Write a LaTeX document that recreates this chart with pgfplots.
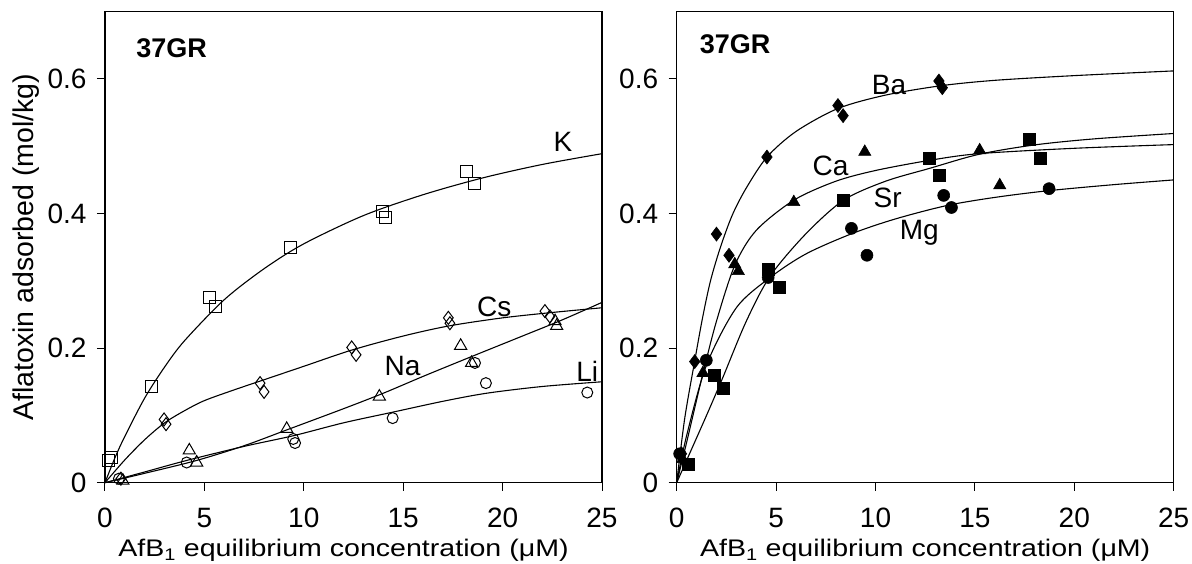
\documentclass[border=0pt]{standalone}
\usepackage{fontspec}
\setmainfont{Liberation Sans}
\newfontfamily\xlabfont[FakeStretch=1.19]{Liberation Sans}
\usepackage{pgfplots}
\pgfplotsset{compat=1.18}
\begin{document}
\begin{tikzpicture}
\pgfplotsset{
  myaxis/.style={
    scale only axis, width=497pt, height=471pt,
    xmin=0, xmax=25, ymin=0, ymax=0.7,
    xtick={0,5,10,15,20,25}, xticklabels={0,5,10,15,20,25},
    ytick={0,0.2,0.4,0.6}, yticklabels={0,0.2,0.4,0.6},
    xtick pos=bottom, ytick pos=left,
    tick align=outside, major tick length=8pt,
    tick style={black, line width=1pt},
    axis line style={line width=1.2pt},
    ticklabel style={font=\fontsize{28}{32}\selectfont},
    xticklabel style={yshift=-14pt},
    yticklabel style={xshift=-7pt},
    xlabel={AfB\textsubscript{1} equilibrium concentration (μM)},
    xlabel style={font=\xlabfont\fontsize{24}{28}\selectfont, at={(axis description cs:0.5,0)}, anchor=base, yshift=-74pt},
    ylabel style={font=\fontsize{28.5}{32}\selectfont, at={(axis description cs:0,0.5)}, anchor=base, yshift=71.6pt},
    clip=false,
  },
  curve/.style={black, line width=1.1pt, smooth, no marks},
  openm/.style={only marks, mark options={draw=black, line width=1pt, fill=none}},
  fullm/.style={only marks, mark options={draw=black, fill=black, line width=0.6pt}},
}
\path[use as bounding box] (-105pt,-80.3pt) rectangle (1087pt,482.7pt);
% ---------------- left panel ----------------
\begin{axis}[myaxis, at={(0pt,0pt)}, anchor=south west,
  ylabel={Aflatoxin adsorbed (mol/kg)}, xlabel style={xshift=-10pt}]
% K
\addplot[curve] coordinates {(0,0)(0.5,0.037)(1,0.069)(2,0.126)(3,0.172)(4,0.211)(6,0.272)(8,0.318)(10,0.355)(13,0.397)(16,0.428)(19,0.453)(22,0.473)(25,0.489)};
\addplot[openm, mark=square, mark size=6pt] coordinates {(0.2,0.033)(0.34,0.038)(2.35,0.143)(5.28,0.275)(5.58,0.262)(9.31,0.350)(13.97,0.403)(14.13,0.394)(18.19,0.463)(18.61,0.444)};
% Cs
\addplot[curve] coordinates {(0,0)(1,0.034)(2,0.064)(3,0.089)(4,0.107)(5,0.122)(6.5,0.138)(7.8,0.151)(10,0.173)(12.4,0.197)(15,0.218)(17.3,0.233)(20,0.245)(22.5,0.253)(25,0.26)};
\addplot[openm, mark=diamond, mark size=6.5pt] coordinates {(0.8,0.006)(2.97,0.094)(3.07,0.087)(7.80,0.148)(8.0,0.135)(12.41,0.201)(12.63,0.190)(17.27,0.245)(17.35,0.237)(22.13,0.255)(22.38,0.247)};
% Na
\addplot[curve] coordinates {(0,0)(2,0.014)(4.6,0.033)(7,0.055)(9.1,0.078)(12,0.11)(14,0.133)(16,0.158)(18.4,0.187)(21,0.218)(23,0.242)(25,0.268)};
\addplot[openm, mark=triangle, mark size=7pt] coordinates {(0.9,0.003)(4.24,0.048)(4.61,0.030)(9.14,0.080)(13.8,0.128)(17.89,0.2035)(18.44,0.178)(22.64,0.240)(22.72,0.233)};
% Li
\addplot[curve] coordinates {(0,0)(2,0.016)(4.1,0.033)(7,0.054)(9.5,0.070)(12,0.089)(14.5,0.105)(17,0.121)(19.2,0.133)(22,0.143)(25,0.150)};
\addplot[openm, mark=o, mark size=5.5pt] coordinates {(0.7,0.006)(4.11,0.030)(9.47,0.065)(9.56,0.059)(14.47,0.096)(18.61,0.178)(19.16,0.148)(24.26,0.134)};
\node[font=\fontsize{27}{30}\selectfont\bfseries] at (axis cs:3.35,0.646) {37GR};
\node[font=\fontsize{28}{32}\selectfont] at (axis cs:23.03,0.506) {K};
\node[font=\fontsize{28}{32}\selectfont] at (axis cs:19.58,0.262) {Cs};
\node[font=\fontsize{28}{32}\selectfont] at (axis cs:14.97,0.173) {Na};
\node[font=\fontsize{28}{32}\selectfont] at (axis cs:24.26,0.165) {Li};
\end{axis}
% ---------------- right panel ----------------
\begin{axis}[myaxis, at={(571.7pt,0pt)}, anchor=south west]
% Ba
\addplot[curve] coordinates {(0,0)(0.4,0.095)(0.9,0.18)(1.3,0.245)(1.7,0.30)(2.2,0.35)(2.8,0.398)(3.5,0.438)(4.54,0.484)(6,0.522)(8.1,0.556)(10.5,0.576)(13.3,0.590)(16,0.598)(20,0.605)(25,0.612)};
\addplot[fullm, mark=diamond*, mark size=7pt] coordinates {(0.24,0.043)(0.905,0.180)(2.0,0.3695)(2.63,0.338)(4.54,0.484)(8.11,0.5605)(8.37,0.5455)(13.19,0.597)(13.36,0.587)};
% Ca
\addplot[curve] coordinates {(0,0)(0.5,0.06)(1.3,0.16)(2,0.24)(2.92,0.323)(4,0.375)(5.9,0.42)(8,0.448)(10,0.464)(12.7,0.479)(15.2,0.489)(20,0.497)(25,0.5025)};
\addplot[fullm, mark=triangle*, mark size=7pt] coordinates {(0.3,0.035)(1.32,0.163)(2.92,0.3246)(3.10,0.3145)(5.89,0.417)(9.46,0.4917)(15.24,0.494)(16.25,0.442)};
% Sr
\addplot[curve] coordinates {(0,0)(0.6,0.04)(1.5,0.10)(2.33,0.157)(3.5,0.24)(4.7,0.307)(6.5,0.37)(8.4,0.42)(10.5,0.448)(12.7,0.467)(15.2,0.488)(18,0.502)(21,0.511)(25,0.519)};
\addplot[fullm, mark=square*, mark size=6pt] coordinates {(0.57,0.027)(1.91,0.16)(2.36,0.140)(4.59,0.317)(5.18,0.290)(8.40,0.419)(12.69,0.4827)(13.23,0.457)(17.76,0.5106)(18.29,0.4827)};
% Mg
\addplot[curve] coordinates {(0,0)(0.5,0.07)(1.5,0.175)(3,0.26)(4.7,0.305)(6.5,0.34)(8.8,0.37)(11,0.392)(13.6,0.412)(16,0.424)(18.7,0.434)(22,0.443)(25,0.450)};
\addplot[fullm, mark=*, mark size=6pt] coordinates {(0.15,0.043)(1.49,0.182)(4.6,0.305)(8.79,0.378)(9.57,0.338)(13.43,0.427)(13.82,0.409)(18.73,0.437)};
\node[font=\fontsize{27}{30}\selectfont\bfseries] at (axis cs:2.94,0.651) {37GR};
\node[font=\fontsize{28}{32}\selectfont] at (axis cs:10.68,0.591) {Ba};
\node[font=\fontsize{28}{32}\selectfont] at (axis cs:7.74,0.471) {Ca};
\node[font=\fontsize{28}{32}\selectfont] at (axis cs:10.61,0.423) {Sr};
\node[font=\fontsize{28}{32}\selectfont] at (axis cs:12.2,0.372) {Mg};
\end{axis}
\end{tikzpicture}
\end{document}
